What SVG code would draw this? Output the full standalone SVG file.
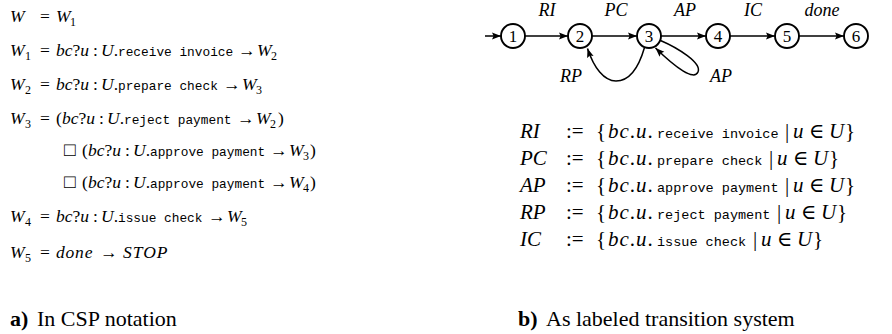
<svg xmlns="http://www.w3.org/2000/svg" width="892" height="334" viewBox="0 0 892 334">
<style>
text { font-family: "Liberation Serif", "Times New Roman", "DejaVu Serif", serif; font-size: 17.5px; fill: #000; }
.i { font-style: italic; }
.tt { font-family: "Liberation Mono", "Courier New", monospace; font-size: 12.8px; font-style: normal; }
.tr { font-size: 13.5px; }
.sub { font-size: 12px; font-style: normal; }
.box { font-size: 19px; }
.cap { font-size: 22px; }
.b { font-weight: bold; }
.node circle { fill: #fff; stroke: #000; stroke-width: 1.9; }
.node text { text-anchor: middle; font-size: 17px; }
.edge { fill: none; stroke: #000; stroke-width: 1.5; marker-end: url(#ah); }
.lbl { font-style: italic; text-anchor: middle; font-size: 18px; }
.dl { font-size: 21px; }
</style>
<defs>
<marker id="ah" markerUnits="userSpaceOnUse" markerWidth="10" markerHeight="8" refX="9" refY="4" orient="auto">
<path d="M0,0.6 L9,4 L0,7.4 L1.6,4 z" fill="#000"/>
</marker>
</defs>

<g id="csp">
<g><text y="22"><tspan x="10" class="i">W</tspan><tspan x="40">=</tspan><tspan x="56" class="i">W</tspan><tspan x="70" y="26" class="sub">1</tspan></text></g>

<g><text y="56"><tspan x="10" class="i">W</tspan><tspan x="25" y="60" class="sub">1</tspan><tspan x="40" y="56">=</tspan><tspan x="56" class="i">bc</tspan><tspan>?</tspan><tspan class="i">u</tspan><tspan x="93">:</tspan><tspan x="101" class="i">U</tspan><tspan>.</tspan></text>
<text class="tt" x="118" y="56">receive invoice</text>
<text y="56"><tspan x="238">→</tspan><tspan x="257" class="i">W</tspan><tspan x="271" y="60" class="sub">2</tspan></text></g>

<g><text y="90"><tspan x="10" class="i">W</tspan><tspan x="25" y="94" class="sub">2</tspan><tspan x="40" y="90">=</tspan><tspan x="56" class="i">bc</tspan><tspan>?</tspan><tspan class="i">u</tspan><tspan x="93">:</tspan><tspan x="101" class="i">U</tspan><tspan>.</tspan></text>
<text class="tt" x="118" y="90">prepare check</text>
<text y="90"><tspan x="223">→</tspan><tspan x="242" class="i">W</tspan><tspan x="256" y="94" class="sub">3</tspan></text></g>

<g><text y="124"><tspan x="10" class="i">W</tspan><tspan x="25" y="128" class="sub">3</tspan><tspan x="40" y="124">=</tspan><tspan x="56">(</tspan><tspan x="62" class="i">bc</tspan><tspan>?</tspan><tspan class="i">u</tspan><tspan x="99">:</tspan><tspan x="107" class="i">U</tspan><tspan>.</tspan></text>
<text class="tt" x="124" y="124">reject payment</text>
<text y="124"><tspan x="237">→</tspan><tspan x="256" class="i">W</tspan><tspan x="270" y="128" class="sub">2</tspan><tspan x="278" y="124">)</tspan></text></g>

<g><text y="156"><tspan x="64" class="box">□</tspan><tspan x="82">(</tspan><tspan x="88" class="i">bc</tspan><tspan>?</tspan><tspan class="i">u</tspan><tspan x="125">:</tspan><tspan x="133" class="i">U</tspan><tspan>.</tspan></text>
<text class="tt" x="150" y="156">approve payment</text>
<text y="156"><tspan x="270">→</tspan><tspan x="289" class="i">W</tspan><tspan x="303" y="160" class="sub">3</tspan><tspan x="310" y="156">)</tspan></text></g>

<g><text y="188"><tspan x="64" class="box">□</tspan><tspan x="82">(</tspan><tspan x="88" class="i">bc</tspan><tspan>?</tspan><tspan class="i">u</tspan><tspan x="125">:</tspan><tspan x="133" class="i">U</tspan><tspan>.</tspan></text>
<text class="tt" x="150" y="188">approve payment</text>
<text y="188"><tspan x="270">→</tspan><tspan x="289" class="i">W</tspan><tspan x="303" y="192" class="sub">4</tspan><tspan x="310" y="188">)</tspan></text></g>

<g><text y="222"><tspan x="10" class="i">W</tspan><tspan x="25" y="226" class="sub">4</tspan><tspan x="40" y="222">=</tspan><tspan x="56" class="i">bc</tspan><tspan>?</tspan><tspan class="i">u</tspan><tspan x="93">:</tspan><tspan x="101" class="i">U</tspan><tspan>.</tspan></text>
<text class="tt" x="118" y="222">issue check</text>
<text y="222"><tspan x="208">→</tspan><tspan x="227" class="i">W</tspan><tspan x="241" y="226" class="sub">5</tspan></text></g>

<g><text y="258"><tspan x="10" class="i">W</tspan><tspan x="25" y="262" class="sub">5</tspan><tspan x="40" y="258">=</tspan><tspan x="56" class="i" letter-spacing="0.8">done</tspan><tspan x="100">→</tspan><tspan x="123" class="i" letter-spacing="1">STOP</tspan></text></g>

<text y="326" class="cap"><tspan x="10" class="b">a)</tspan><tspan x="37">In CSP notation</tspan></text>
</g>

<g id="connectors">
<line class="edge" x1="485" y1="36" x2="501" y2="36"/>
<line class="edge" x1="525" y1="36" x2="568" y2="36"/>
<line class="edge" x1="592" y1="36" x2="637" y2="36"/>
<line class="edge" x1="661" y1="36" x2="706" y2="36"/>
<line class="edge" x1="730" y1="36" x2="775" y2="36"/>
<line class="edge" x1="799" y1="36" x2="844" y2="36"/>
<path class="edge" d="M644.5,47.5 C638,70 628,81 616,81 C604,81 594,68 587.5,48.5"/>
<path class="edge" d="M660.5,40.5 C678,48 702,63 698,72 C694,81 676,68 655.5,48"/>
</g>

<g id="edge-labels">
<text class="lbl" x="547" y="16">RI</text>
<text class="lbl" x="616" y="16">PC</text>
<text class="lbl" x="685" y="16">AP</text>
<text class="lbl" x="753" y="16">IC</text>
<text class="lbl" x="822" y="16">done</text>
<text class="lbl" x="571" y="82">RP</text>
<text class="lbl" x="721" y="82">AP</text>
</g>

<g id="n1" class="node"><circle cx="513" cy="36" r="12"/><text x="513" y="42">1</text></g>
<g id="n2" class="node"><circle cx="580" cy="36" r="12"/><text x="580" y="42">2</text></g>
<g id="n3" class="node"><circle cx="649" cy="36" r="12"/><text x="649" y="42">3</text></g>
<g id="n4" class="node"><circle cx="718" cy="36" r="12"/><text x="718" y="42">4</text></g>
<g id="n5" class="node"><circle cx="787" cy="36" r="12"/><text x="787" y="42">5</text></g>
<g id="n6" class="node"><circle cx="856" cy="36" r="12"/><text x="856" y="42">6</text></g>

<g id="defs-text">
<g><text y="138" class="dl"><tspan x="520" class="i">RI</tspan><tspan x="566">:=</tspan><tspan x="596">{</tspan><tspan x="608" class="i" letter-spacing="1">bc</tspan><tspan letter-spacing="1">.</tspan><tspan class="i" letter-spacing="1">u</tspan><tspan>.</tspan></text>
<text class="tt tr" x="657" y="138">receive invoice</text>
<text y="138" class="dl"><tspan x="785">|</tspan><tspan x="793" class="i">u</tspan><tspan x="809">∈</tspan><tspan x="829" class="i">U</tspan><tspan x="845">}</tspan></text></g>
<g><text y="165" class="dl"><tspan x="520" class="i">PC</tspan><tspan x="566">:=</tspan><tspan x="596">{</tspan><tspan x="608" class="i" letter-spacing="1">bc</tspan><tspan letter-spacing="1">.</tspan><tspan class="i" letter-spacing="1">u</tspan><tspan>.</tspan></text>
<text class="tt tr" x="657" y="165">prepare check</text>
<text y="165" class="dl"><tspan x="769">|</tspan><tspan x="777" class="i">u</tspan><tspan x="793">∈</tspan><tspan x="813" class="i">U</tspan><tspan x="829">}</tspan></text></g>
<g><text y="192" class="dl"><tspan x="520" class="i">AP</tspan><tspan x="566">:=</tspan><tspan x="596">{</tspan><tspan x="608" class="i" letter-spacing="1">bc</tspan><tspan letter-spacing="1">.</tspan><tspan class="i" letter-spacing="1">u</tspan><tspan>.</tspan></text>
<text class="tt tr" x="657" y="192">approve payment</text>
<text y="192" class="dl"><tspan x="785">|</tspan><tspan x="793" class="i">u</tspan><tspan x="809">∈</tspan><tspan x="829" class="i">U</tspan><tspan x="845">}</tspan></text></g>
<g><text y="219" class="dl"><tspan x="520" class="i">RP</tspan><tspan x="566">:=</tspan><tspan x="596">{</tspan><tspan x="608" class="i" letter-spacing="1">bc</tspan><tspan letter-spacing="1">.</tspan><tspan class="i" letter-spacing="1">u</tspan><tspan>.</tspan></text>
<text class="tt tr" x="657" y="219">reject payment</text>
<text y="219" class="dl"><tspan x="777">|</tspan><tspan x="785" class="i">u</tspan><tspan x="801">∈</tspan><tspan x="821" class="i">U</tspan><tspan x="837">}</tspan></text></g>
<g><text y="246" class="dl"><tspan x="520" class="i">IC</tspan><tspan x="566">:=</tspan><tspan x="596">{</tspan><tspan x="608" class="i" letter-spacing="1">bc</tspan><tspan letter-spacing="1">.</tspan><tspan class="i" letter-spacing="1">u</tspan><tspan>.</tspan></text>
<text class="tt tr" x="657" y="246">issue check</text>
<text y="246" class="dl"><tspan x="753">|</tspan><tspan x="761" class="i">u</tspan><tspan x="777">∈</tspan><tspan x="797" class="i">U</tspan><tspan x="813">}</tspan></text></g>
<text y="326" class="cap"><tspan x="518" class="b">b)</tspan><tspan x="546">As labeled transition system</tspan></text>
</g>
</svg>
